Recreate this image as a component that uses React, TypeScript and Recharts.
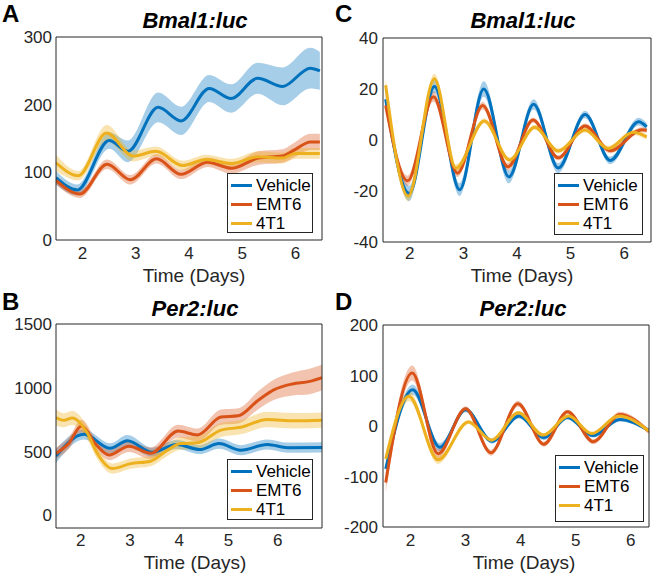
import React from "react";
import { ComposedChart, Line, Area, XAxis, YAxis, Legend } from "recharts";

const FONT = "'Liberation Sans', Arial, Helvetica, sans-serif";
const AXIS = "#262626";

const seriesNames = ["Vehicle", "EMT6", "4T1"];
const seriesColors = ["#0072BD", "#D95319", "#EDB120"];
const dayTicks = [2, 3, 4, 5, 6];

// A  Bmal1:luc (raw)
const aVehT = [1.5, 1.9, 2.5, 2.85, 3.42, 3.85, 4.38, 4.79, 5.29, 5.76, 6.28, 6.46];
const aVehY = [92, 74, 147, 131, 196, 176, 224, 209, 239, 227, 254, 250];
const aVehE = [10, 8, 12, 16, 22, 21, 20, 21, 23, 28, 30, 28];
const aEmtT = [1.5, 1.95, 2.46, 2.9, 3.39, 3.85, 4.35, 4.8, 5.3, 5.75, 6.0, 6.28, 6.46];
const aEmtY = [88, 68, 112, 89, 120, 97, 115, 106, 121, 124, 134, 145, 145];
const aEmtE = [6, 6, 7, 7, 7, 7, 7, 8, 10, 10, 11, 12, 12];
const aYelT = [1.5, 1.92, 2.45, 2.95, 3.38, 3.88, 4.32, 4.8, 5.3, 5.75, 6.0, 6.46];
const aYelY = [114, 95, 158, 124, 131, 110, 119, 113, 123, 121, 128, 128];
const aYelE = [12, 7, 12, 8, 7, 7, 7, 7, 8, 8, 8, 8];
const aTicks = [0, 100, 200, 300];

// C  Bmal1:luc (detrended)
const cVehT = [1.55, 1.99, 2.46, 2.93, 3.38, 3.85, 4.31, 4.77, 5.27, 5.74, 6.27, 6.42];
const cVehY = [16, -21, 21, -19.5, 20, -14.5, 14, -11, 10, -8, 7.2, 5.2];
const cVehE = [2.5, 3, 2.5, 2.5, 3, 2.5, 2, 2, 1.5, 1.5, 1.5, 1.5];
const cEmtT = [1.55, 1.96, 2.44, 2.89, 3.36, 3.83, 4.3, 4.77, 5.27, 5.74, 6.33, 6.42];
const cEmtY = [13.5, -16, 17, -13, 13.5, -10.5, 7.8, -7, 5.5, -4.2, 4, 3.8];
const cEmtE = [2, 2, 2, 1.5, 1.5, 1.5, 1, 1, 1, 1, 1, 1];
const cYelT = [1.55, 1.97, 2.46, 2.86, 3.39, 3.86, 4.33, 4.77, 5.27, 5.7, 6.17, 6.42];
const cYelY = [21.5, -22, 24, -11, 7.5, -7.8, 5, -4.3, 3.9, -3.3, 3, 1.2];
const cYelE = [2.5, 2, 2, 1.5, 1, 1, 1, 1, 1, 1, 1, 1];
const cTicks = [-40, -20, 0, 20, 40];

// B  Per2:luc (raw)
const bVehT = [1.5, 2.07, 2.6, 2.95, 3.45, 3.95, 4.42, 4.81, 5.25, 5.79, 6.2, 6.9];
const bVehY = [465, 635, 525, 585, 495, 555, 515, 562, 510, 555, 530, 532];
const bVehE = [55, 40, 40, 45, 35, 35, 35, 40, 40, 40, 40, 40];
const bEmtT = [1.5, 1.75, 2.02, 2.3, 2.58, 2.98, 3.42, 3.98, 4.37, 4.85, 5.2, 5.6, 5.93, 6.3, 6.65, 6.9];
const bEmtY = [485, 560, 700, 560, 472, 542, 486, 660, 630, 770, 780, 900, 985, 1030, 1050, 1080];
const bEmtE = [45, 45, 50, 45, 40, 45, 45, 50, 50, 60, 60, 70, 80, 90, 100, 100];
const bYelT = [1.5, 1.66, 1.83, 2.14, 2.34, 2.64, 3.02, 3.42, 3.76, 4.03, 4.37, 4.85, 5.25, 5.79, 6.34, 6.9];
const bYelY = [767, 745, 762, 641, 484, 366, 405, 424, 510, 563, 568, 668, 690, 751, 741, 746];
const bYelE = [65, 55, 55, 50, 45, 40, 40, 40, 45, 50, 50, 55, 55, 60, 60, 60];
const bTicks = [0, 500, 1000, 1500];

// D  Per2:luc (detrended)
const dVehT = [1.55, 2.04, 2.53, 3.0, 3.48, 3.97, 4.42, 4.85, 5.31, 5.8, 6.33];
const dVehY = [-85, 72, -42, 32, -30, 20, -23, 17, -19, 13, -9];
const dVehE = [10, 10, 8, 5, 5, 5, 5, 4, 4, 4, 4];
const dEmtT = [1.55, 2.03, 2.5, 3.0, 3.46, 3.95, 4.42, 4.85, 5.32, 5.8, 6.33];
const dEmtY = [-112, 105, -55, 34, -53, 44, -36, 28, -31, 23, -11];
const dEmtE = [18, 15, 10, 5, 6, 6, 5, 4, 5, 5, 4];
const dYelT = [1.55, 1.97, 2.5, 3.05, 3.47, 3.96, 4.41, 4.87, 5.29, 5.78, 6.33];
const dYelY = [-65, 59, -67, 8, -28, 26, -18, 20, -15, 20, -10];
const dYelE = [12, 10, 8, 4, 4, 4, 4, 4, 4, 4, 4];
const dTicks = [-200, -100, 0, 100, 200];

const rows = (t: number[], y: number[], e: number[]) =>
  t.map((d, i) => ({ t: d, v: y[i], band: [y[i] - e[i], y[i] + e[i]] }));

const panels = [
  {
    letter: "A", title: "Bmal1:luc", left: 0, top: 0,
    plot: { l: 56, r: 322, t: 37, b: 240 },
    xDomain: [1.5, 6.5], yDomain: [0, 300], yTicks: aTicks,
    xTickMargin: 7, yTickMargin: 4,
    legend: { x: 227, y: 173, w: 86, h: 60 },
    titleX: 195, titleY: 28, labelX: 194, labelY: 282,
    series: [rows(aVehT, aVehY, aVehE), rows(aEmtT, aEmtY, aEmtE), rows(aYelT, aYelY, aYelE)],
  },
  {
    letter: "C", title: "Bmal1:luc", left: 333, top: 0,
    plot: { l: 50, r: 318, t: 38, b: 242 },
    xDomain: [1.5, 6.5], yDomain: [-40, 40], yTicks: cTicks,
    xTickMargin: 5, yTickMargin: 5,
    legend: { x: 221, y: 173, w: 89, h: 62 },
    titleX: 190, titleY: 28, labelX: 189, labelY: 282,
    series: [rows(cVehT, cVehY, cVehE), rows(cEmtT, cEmtY, cEmtE), rows(cYelT, cYelY, cYelE)],
  },
  {
    letter: "B", title: "Per2:luc", left: 0, top: 287,
    plot: { l: 56, r: 322, t: 37, b: 241 },
    xDomain: [1.5, 6.9], yDomain: [-100, 1500], yTicks: bTicks,
    xTickMargin: 6, yTickMargin: 4,
    legend: { x: 227, y: 172, w: 86, h: 61 },
    titleX: 195, titleY: 29, labelX: 195, labelY: 282,
    series: [rows(bVehT, bVehY, bVehE), rows(bEmtT, bEmtY, bEmtE), rows(bYelT, bYelY, bYelE)],
  },
  {
    letter: "D", title: "Per2:luc", left: 333, top: 287,
    plot: { l: 50, r: 316, t: 38, b: 240 },
    xDomain: [1.5, 6.33], yDomain: [-200, 200], yTicks: dTicks,
    xTickMargin: 7, yTickMargin: 5,
    legend: { x: 222, y: 168, w: 89, h: 67 },
    titleX: 190, titleY: 29, labelX: 191, labelY: 282,
    series: [rows(dVehT, dVehY, dVehE), rows(dEmtT, dEmtY, dEmtE), rows(dYelT, dYelY, dYelE)],
  },
];

const W = 333;
const H = 287;
const XH = 20;

function LegendBox({ payload, box }: any) {
  const seen = new Set<string>();
  const items = (payload || [])
    .filter((p: any) => p.type !== "none" && seriesNames.includes(p.value))
    .filter((p: any) => (seen.has(p.value) ? false : (seen.add(p.value), true)))
    .sort((a: any, b: any) => seriesNames.indexOf(a.value) - seriesNames.indexOf(b.value));
  return (
    <div
      style={{
        width: box.w,
        height: box.h,
        boxSizing: "border-box",
        border: `1px solid ${AXIS}`,
        background: "#fff",
        paddingTop: 2,
        fontFamily: FONT,
        fontSize: 17,
        color: "#000",
      }}
    >
      {items.map((p: any) => (
        <div key={p.value} style={{ display: "flex", alignItems: "center", height: 19, lineHeight: "19px" }}>
          <span style={{ display: "inline-block", width: 21, height: 3, background: p.color, marginLeft: 3, marginRight: 4 }} />
          <span>{p.value}</span>
        </div>
      ))}
    </div>
  );
}

function Panel({ cfg }: any) {
  const { plot } = cfg;
  const axisProps = { type: "number" as const, allowDataOverflow: true };
  return (
    <div style={{ position: "absolute", left: cfg.left, top: cfg.top, width: W, height: H }}>
      <ComposedChart
        width={W}
        height={H}
        margin={{ top: plot.t, right: W - plot.r, bottom: H - plot.b - XH, left: 0 }}
      >
        <XAxis
          xAxisId="x" dataKey="t" {...axisProps} domain={cfg.xDomain} ticks={dayTicks} interval={0}
          height={XH} tickLine={false} tickSize={0} tickMargin={cfg.xTickMargin}
          axisLine={{ stroke: AXIS }} tick={{ fill: AXIS, fontSize: 17, fontFamily: FONT }}
        />
        <XAxis
          xAxisId="xin" dataKey="t" {...axisProps} domain={cfg.xDomain} ticks={dayTicks} interval={0}
          mirror tick={false} tickSize={4} tickLine={{ stroke: AXIS }} axisLine={false}
        />
        <XAxis
          xAxisId="xtop" orientation="top" dataKey="t" {...axisProps} domain={cfg.xDomain} ticks={dayTicks} interval={0}
          mirror tick={false} tickSize={4} tickLine={{ stroke: AXIS }} axisLine={{ stroke: AXIS }}
        />
        <YAxis
          yAxisId="y" {...axisProps} domain={cfg.yDomain} ticks={cfg.yTicks} interval={0}
          width={plot.l} tickLine={false} tickSize={0} tickMargin={cfg.yTickMargin}
          axisLine={{ stroke: AXIS }} tick={{ fill: AXIS, fontSize: 17, fontFamily: FONT }}
        />
        <YAxis
          yAxisId="yin" {...axisProps} domain={cfg.yDomain} ticks={cfg.yTicks} interval={0}
          mirror tick={false} tickSize={4} tickLine={{ stroke: AXIS }} axisLine={false}
        />
        <YAxis
          yAxisId="yright" orientation="right" {...axisProps} domain={cfg.yDomain} ticks={cfg.yTicks} interval={0}
          mirror tick={false} tickSize={4} tickLine={{ stroke: AXIS }} axisLine={{ stroke: AXIS }}
        />
        {cfg.series.map((data: any, i: number) => (
          <React.Fragment key={seriesNames[i]}>
            <Area
              xAxisId="x" yAxisId="y" data={data} dataKey="band" type="monotoneX"
              fill={seriesColors[i]} fillOpacity={0.35} stroke="none"
              legendType="none" isAnimationActive={false}
            />
            <Line
              xAxisId="x" yAxisId="y" data={data} dataKey="v" name={seriesNames[i]} type="monotoneX"
              stroke={seriesColors[i]} strokeWidth={3} dot={false} activeDot={false}
              isAnimationActive={false}
            />
          </React.Fragment>
        ))}
        <Legend
          layout="vertical" align="center" verticalAlign="middle"
          wrapperStyle={{ left: cfg.legend.x, top: cfg.legend.y, width: cfg.legend.w, height: cfg.legend.h }}
          content={(props: any) => <LegendBox payload={props.payload} box={cfg.legend} />}
        />
      </ComposedChart>
      <svg
        width={W}
        height={H}
        style={{ position: "absolute", left: 0, top: 0, pointerEvents: "none" }}
        fontFamily={FONT}
      >
        <text x={2} y={cfg.top ? 23 : 22} fontSize={24} fontWeight="bold" fill="#000">
          {cfg.letter}
        </text>
        <text x={cfg.titleX} y={cfg.titleY} fontSize={22} fontWeight="bold" fontStyle="italic" textAnchor="middle" fill="#000">
          {cfg.title}
        </text>
        <text x={cfg.labelX} y={cfg.labelY} fontSize={19} textAnchor="middle" fill={AXIS}>
          Time (Days)
        </text>
      </svg>
    </div>
  );
}

export default function App() {
  return (
    <div style={{ position: "absolute", left: 0, top: 0, width: 666, height: 574, background: "#fff" }}>
      {panels.map((p) => (
        <Panel key={p.letter} cfg={p} />
      ))}
    </div>
  );
}
